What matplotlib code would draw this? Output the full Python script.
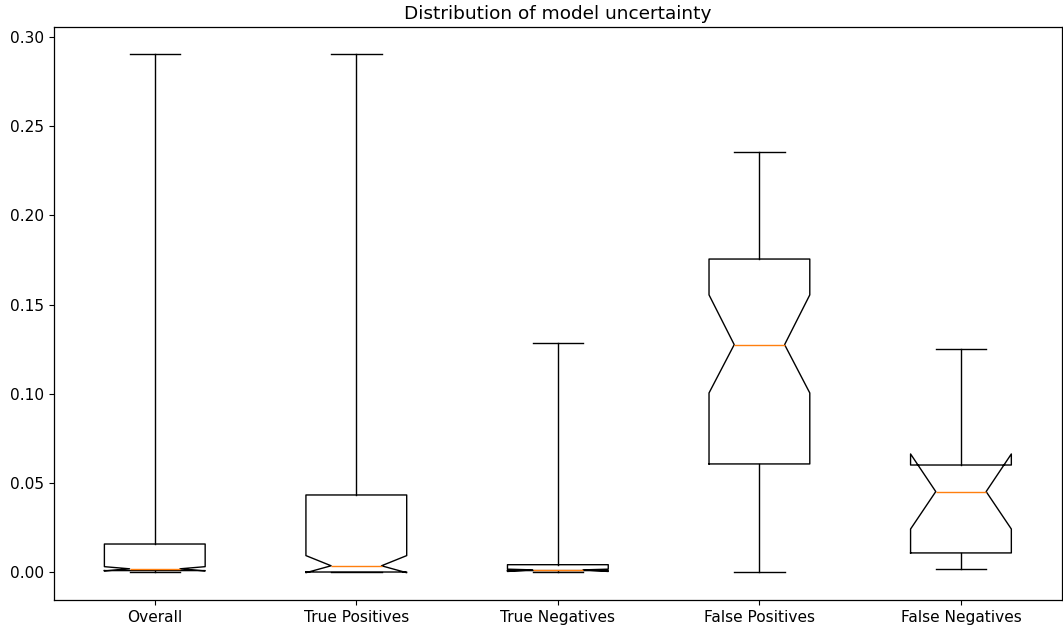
import matplotlib
matplotlib.use("Agg")
import matplotlib.pyplot as plt

labels = ["Overall", "True Positives", "True Negatives", "False Positives", "False Negatives"]
whislo = [0.0, 0.0, 0.0, 0.0, 0.0017]
q1 = [0.0008, 0.0, 0.0008, 0.0606, 0.0107]
cilo = [0.0006, -0.0004, 0.0003, 0.1004, 0.0241]
med = [0.0018, 0.0035, 0.0012, 0.1275, 0.0451]
cihi = [0.0030, 0.0092, 0.0016, 0.1554, 0.0662]
q3 = [0.0157, 0.0432, 0.0041, 0.1755, 0.0600]
whishi = [0.2905, 0.2905, 0.1284, 0.2357, 0.1252]

plt.rcParams["font.size"] = 11.1
plt.rcParams["lines.linewidth"] = 1.1
plt.rcParams["axes.linewidth"] = 0.9

stats = []
for i, name in enumerate(labels):
    stats.append({
        "label": name,
        "whislo": whislo[i],
        "q1": q1[i],
        "med": med[i],
        "q3": q3[i],
        "whishi": whishi[i],
        "cilo": cilo[i],
        "cihi": cihi[i],
        "fliers": [],
    })

fig = plt.figure(figsize=(10.63, 6.30), dpi=100)
ax = fig.add_axes([0.0508, 0.0476, 0.948, 0.9095])

ax.bxp(stats, shownotches=True, showfliers=False)

ax.set_ylim(-0.0157, 0.3056)
ax.set_title("Distribution of model uncertainty")

fig.savefig("out.png", dpi=100)
